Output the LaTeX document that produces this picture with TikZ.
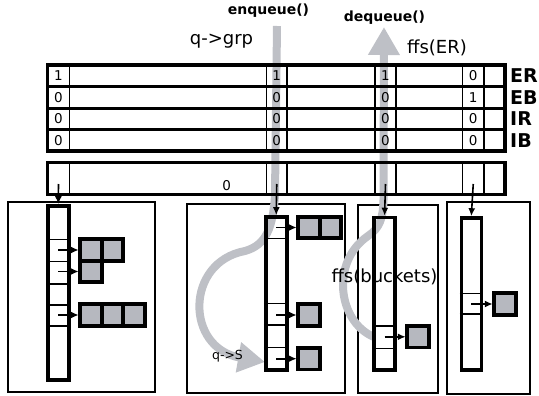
\documentclass[tikz,border=0pt]{standalone}
\usepackage{fontspec}
\setmainfont{DejaVu Sans}
\usepackage{tikz}
\usetikzlibrary{arrows.meta,positioning}
\definecolor{qgray}{RGB}{182,184,191}
\definecolor{flowgray}{RGB}{190,192,198}

\begin{document}
\begin{tikzpicture}[x=1pt, y=-1pt,
    frame/.style={draw, line width=1.5pt},
    arr/.style={draw, line width=3.6pt, inner sep=0, minimum width=21pt},
    slot/.style={line width=1.5pt},
    sq/.style={draw, line width=3.6pt, fill=qgray, minimum size=21.5pt,
               inner sep=0, outer sep=0},
    ptr/.style={-{Latex[length=8pt,width=7pt]}, line width=1.6pt},
    flow/.style={draw=flowgray, line width=8pt},
    bit/.style={font=\fontsize{13.5}{13.5}\selectfont, inner sep=0},
    reg/.style={font=\fontsize{19}{19}\selectfont\bfseries, anchor=west, inner sep=0},
    txt/.style={font=\fontsize{18}{18}\selectfont, inner sep=0},
    fn/.style={font=\fontsize{14}{14}\selectfont\bfseries, inner sep=0}
]
\useasboundingbox (0,0) rectangle (539,396);

% Frames
\draw[frame] (8,202) rectangle (155,392);
\draw[frame] (187,204) rectangle (345,393);
\draw[frame] (358,205) rectangle (438,393);
\draw[frame] (447,202) rectangle (530,394);

% Flows
\draw[flow, -{Triangle[length=27pt,width=29pt]}] (277,26) -- (275,195)
    .. controls (273,228) and (266,245) .. (245,251)
    .. controls (185,262) and (185,348) .. (265,362);
\draw[flow, -{Triangle[length=28pt,width=30pt]}] (374,337)
    .. controls (338,322) and (330,262) .. (368,236)
    .. controls (380,228) and (383,218) .. (383.5,200) -- (384,27);

% Bitmaps
\draw[line width=3.6pt] (47.5,65) rectangle (505,151);
\foreach \y in {87,108.5,129.5}
    \draw[line width=3pt] (47.5,\y) -- (505,\y);
\draw[line width=3.6pt] (47.5,162.5) rectangle (505,194.5);
\foreach \x in {69.5,266.5,287,375,396,462.5,484} {
    \draw[slot] (\x,65) -- (\x,151);
    \draw[slot] (\x,162.5) -- (\x,194.5);
}
\foreach \x/\er/\eb [count=\c] in {58.5/1/0, 276.75/1/0, 385.5/1/0, 473.25/0/1} {
    \node[bit] (er\c) at (\x,76) {\er};
    \node[bit] (eb\c) at (\x,97.75) {\eb};
    \node[bit] (ir\c) at (\x,119) {0};
    \node[bit] (ib\c) at (\x,140.25) {0};
    \coordinate (b\c) at (\x,184);
}
\node[bit] (bk0) at (226.7,185.3) {0};
\node[reg] (er) at (510,76) {ER};
\node[reg] (eb) at (510,97.75) {EB};
\node[reg] (ir) at (510,119) {IR};
\node[reg] (ib) at (510,140.25) {IB};

% Buckets
\node[arr, minimum height=174pt] (a1) at (58.3,293) {};
\node[arr, minimum height=153pt] (a2) at (276.2,293.5) {};
\node[arr, minimum height=152.5pt] (a3) at (384.6,293.75) {};
\node[arr, minimum height=152pt, minimum width=20pt] (a4) at (471.3,294) {};
\foreach \y in {239.3,261.7,284,305,326}
    \draw[slot] (a1.west |- 0,\y) -- (a1.east |- 0,\y);
\foreach \y in {238.3,303.3,325,347.3}
    \draw[slot] (a2.west |- 0,\y) -- (a2.east |- 0,\y);
\foreach \y in {326,348.3}
    \draw[slot] (a3.west |- 0,\y) -- (a3.east |- 0,\y);
\foreach \y in {293.3,314}
    \draw[slot] (a4.west |- 0,\y) -- (a4.east |- 0,\y);

% Entries
\node[sq] (s11) at (91,250) {};
\node[sq, right=0pt of s11] (s12) {};
\node[sq, below=0pt of s11] (s13) {};
\node[sq] (s14) at (91,315) {};
\node[sq, right=0pt of s14] (s15) {};
\node[sq, right=0pt of s15] (s16) {};
\node[sq] (s21) at (309,227.5) {};
\node[sq, right=0pt of s21] (s22) {};
\node[sq] (s23) at (309,315) {};
\node[sq] (s24) at (309,358.7) {};
\node[sq] (s31) at (418,336.8) {};
\node[sq] (s41) at (505,304) {};

% Arrows
\foreach \c in {1,2,3,4}
    \draw[ptr] (b\c) -- (a\c.north);
\foreach \s/\a in {s11/a1, s13/a1, s14/a1, s21/a2, s23/a2, s24/a2, s31/a3, s41/a4}
    \draw[ptr, shorten >=1.5pt] (\a.center |- \s.west) -- (\s.west);

% Labels
\node[fn] (enq) at (268.5,11) {enqueue()};
\node[fn] (deq) at (384.5,18) {dequeue()};
\node[txt] (grp) at (221.5,41.5) {q->grp};
\node[txt] (ffser) at (437,48) {ffs(ER)};
\node[txt] (ffsb) at (384.5,276.5) {ffs(buckets)};
\node[font=\fontsize{12.5}{12.5}\selectfont, inner sep=0] (qs) at (227.5,356) {q->S};

\end{tikzpicture}
\end{document}
